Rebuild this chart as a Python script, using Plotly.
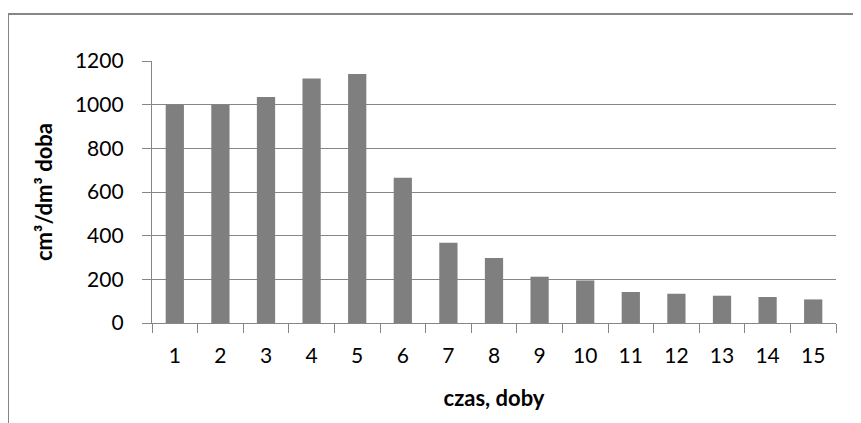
import plotly.graph_objects as go

days = [str(i) for i in range(1, 16)]
values = [1000, 1000, 1035, 1120, 1140, 665, 368, 298, 212, 195, 142, 134, 125, 119, 108]
y_ticks = [0, 200, 400, 600, 800, 1000, 1200]

# page body has an 8px margin; figure coordinates below are screen - 8
W, H = 853, 415
L, R, T, B = 144, 25, 53, 100
pw, ph = W - L - R, H - T - B

def px(x):
    return (x - L) / pw

def py(y):
    return 1 - (y - T) / ph

FONT = "Lato"
GRAY = "#868686"

fig = go.Figure(go.Bar(x=days, y=values, marker=dict(color="#7f7f7f", line=dict(width=0)), width=0.4))

fig.update_layout(
    width=W, height=H,
    margin=dict(l=L, r=R, t=T, b=B),
    paper_bgcolor="white", plot_bgcolor="white",
    showlegend=False,
    font=dict(family=FONT, size=21, color="#000"),
    xaxis=dict(
        type="category", tickson="boundaries", ticks="outside", ticklen=9, tickcolor=GRAY,
        tickwidth=1.3, showline=True, linecolor=GRAY, linewidth=1.3, showgrid=False,
        ticklabelstandoff=14,
        title=dict(text="<b>czas, doby</b>", font=dict(size=22), standoff=24),
    ),
    yaxis=dict(
        range=[0, 1200], tickvals=y_ticks, ticks="outside", ticklen=9, tickcolor=GRAY,
        tickwidth=1.3, showline=True, linecolor=GRAY, linewidth=1.3,
        showgrid=True, gridcolor=GRAY, gridwidth=1.3, zeroline=False,
        ticklabelstandoff=14,
        title=dict(text="<b>cm³/dm³ doba</b>", font=dict(size=22), standoff=16),
    ),
    shapes=[
        dict(type="line", xref="paper", yref="paper", x0=px(0), x1=px(853), y0=py(6), y1=py(6),
             line=dict(color=GRAY, width=2)),
        dict(type="line", xref="paper", yref="paper", x0=px(0), x1=px(0), y0=py(6), y1=py(415),
             line=dict(color=GRAY, width=2)),
    ],
)

fig.write_html("out.html")
